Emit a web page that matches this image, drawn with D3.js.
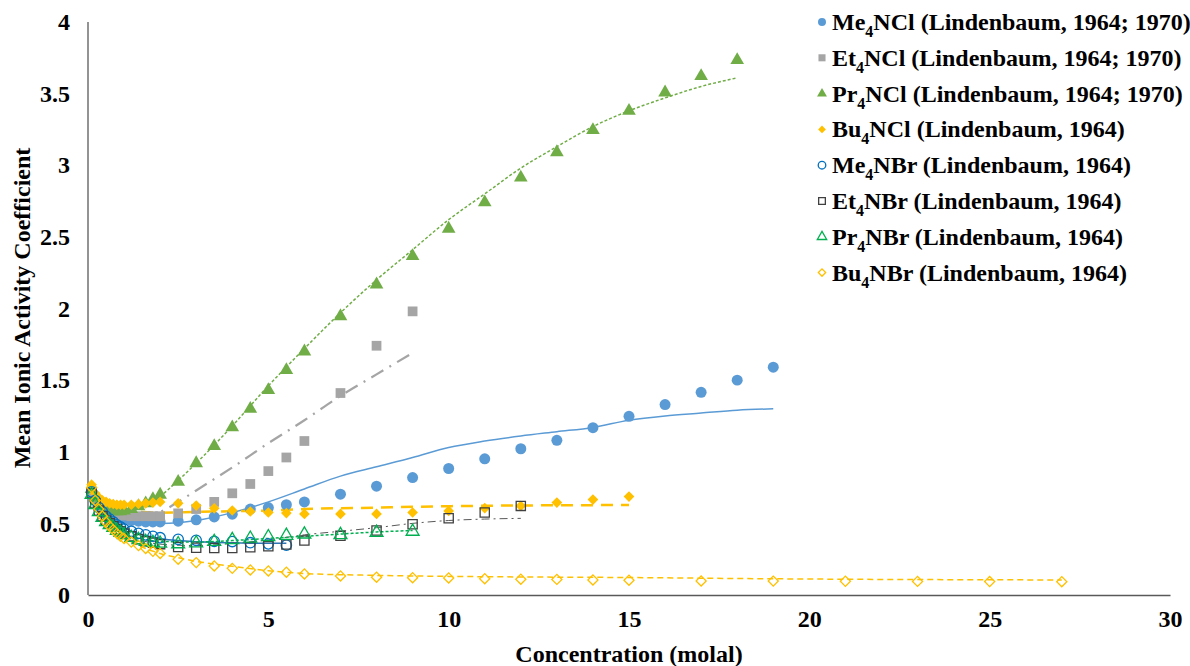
<!DOCTYPE html>
<html><head><meta charset="utf-8">
<script src="https://cdn.jsdelivr.net/npm/d3@7"></script>
<style>
html,body{margin:0;padding:0;background:#fff;}
svg{display:block;font-family:"Liberation Serif","Times New Roman",serif;font-weight:bold;}
</style></head>
<body><svg id="chart" width="1190" height="666"></svg>
<script>
// ---------- data ----------
const xTicks = [0, 5, 10, 15, 20, 25, 30];
const yTicks = [0, 0.5, 1, 1.5, 2, 2.5, 3, 3.5, 4];
const yTickLabels = ["0", "0.5", "1", "1.5", "2", "2.5", "3", "3.5", "4"];

const mLow = [0.1,0.2,0.3,0.4,0.5,0.6,0.7,0.8,0.9,1.0,1.2,1.4,1.6,1.8,2.0];
const mMid = [2.5,3,3.5,4,4.5,5,5.5,6];

// measured points
const me4nclM = mLow.concat(mMid, [7,8,9,10,11,12,13,14,15,16,17,18,19]);
const me4nclG = [0.72,0.66,0.62,0.60,0.58,0.565,0.55,0.54,0.535,0.53,0.52,0.515,0.51,0.51,0.51,
                 0.515,0.525,0.545,0.564,0.60,0.61,0.63,0.65,
                 0.704,0.76,0.82,0.883,0.951,1.021,1.08,1.168,1.247,1.329,1.415,1.50,1.59];

const et4nclM = mLow.concat(mMid, [7,8,9]);
const et4nclG = [0.72,0.67,0.63,0.61,0.595,0.58,0.57,0.565,0.56,0.555,0.55,0.55,0.55,0.55,0.55,
                 0.57,0.60,0.65,0.71,0.775,0.865,0.96,1.075,
                 1.41,1.74,1.98];

const pr4nclM = mLow.concat(mMid, [7,8,9,10,11,12,13,14,15,16,17,18]);
const pr4nclG = [0.74,0.68,0.64,0.62,0.60,0.59,0.585,0.585,0.585,0.59,0.60,0.62,0.64,0.67,0.70,
                 0.79,0.92,1.04,1.17,1.30,1.43,1.57,1.70,
                 1.946,2.168,2.366,2.557,2.741,2.914,3.091,3.245,3.38,3.508,3.622,3.734];

const bu4nclM = mLow.concat(mMid, [7,8,9,10,11,12,13,14,15]);
const bu4nclG = [0.77,0.71,0.68,0.66,0.65,0.64,0.635,0.63,0.63,0.63,0.63,0.635,0.64,0.645,0.65,
                 0.64,0.624,0.605,0.59,0.583,0.576,0.572,0.566,
                 0.566,0.566,0.576,0.587,0.606,0.622,0.645,0.666,0.687];

const me4nbrM = mLow.concat([2.5,3,3.5,4,4.5,5,5.5]);
const me4nbrG = [0.72,0.66,0.61,0.58,0.55,0.53,0.51,0.49,0.475,0.46,0.445,0.43,0.42,0.41,0.40,
                 0.389,0.382,0.375,0.373,0.365,0.357,0.348];

const et4nbrM = mLow.concat(mMid, [7,8,9,10,11,12]);
const et4nbrG = [0.71,0.64,0.59,0.55,0.52,0.50,0.48,0.46,0.445,0.43,0.41,0.39,0.375,0.365,0.355,
                 0.335,0.33,0.328,0.328,0.333,0.34,0.352,0.38,
                 0.413,0.45,0.494,0.536,0.576,0.622];

const pr4nbrM = mLow.concat(mMid, [7,8,9]);
const pr4nbrG = [0.70,0.63,0.58,0.54,0.51,0.49,0.47,0.45,0.435,0.42,0.40,0.385,0.372,0.365,0.36,
                 0.356,0.362,0.372,0.385,0.395,0.405,0.415,0.424,
                 0.42,0.436,0.443];

const bu4nbrM = mLow.concat(mMid, [7,8,9,10,11,12,13,14,15,17,19,21,23,25,27]);
const bu4nbrG = [0.75,0.66,0.60,0.55,0.51,0.48,0.455,0.43,0.41,0.395,0.37,0.345,0.325,0.305,0.29,
                 0.25,0.226,0.203,0.186,0.175,0.168,0.159,0.147,
                 0.133,0.124,0.121,0.119,0.114,0.11,0.109,0.105,0.103,
                 0.098,0.097,0.096,0.095,0.094,0.093];

// fitted curves
const me4nclFitM = [0.1,0.3,0.6,1,1.5,2,2.5,3,4,5,6,7,8,9,10,11,12,13,14,15,16,17,18,19];
const me4nclFitG = [0.72,0.62,0.56,0.525,0.505,0.50,0.505,0.52,0.575,0.65,0.74,0.83,0.895,0.96,1.03,1.075,1.11,1.14,1.17,1.22,1.25,1.27,1.29,1.30];

const et4nclFitM = [0.1,0.3,0.6,1,1.5,2,2.5,3,4,5,6,7,8,9];
const et4nclFitG = [0.72,0.63,0.58,0.555,0.55,0.58,0.65,0.73,0.89,1.06,1.22,1.39,1.54,1.69];

const pr4nclFitM = [0.1,0.3,0.5,1,1.5,2,2.5,3,4,5,6,7,8,9,10,11,12,13,14,15,16,17,18];
const pr4nclFitG = [0.74,0.66,0.62,0.60,0.62,0.69,0.80,0.92,1.18,1.46,1.72,1.97,2.20,2.41,2.62,2.80,2.98,3.13,3.27,3.38,3.47,3.55,3.61];

const bu4nclFitM = [0.1,0.3,0.5,1,1.5,2,3,4,5,6,8,10,12,15];
const bu4nclFitG = [0.76,0.67,0.63,0.595,0.58,0.575,0.58,0.585,0.59,0.60,0.61,0.62,0.625,0.628];

const me4nbrFitM = [0.1,0.3,0.5,1,1.5,2,2.5,3,3.5,4,4.5,5,5.5];
const me4nbrFitG = [0.72,0.62,0.56,0.47,0.42,0.395,0.38,0.372,0.367,0.364,0.362,0.361,0.361];

const et4nbrFitM = [0.1,0.3,0.5,1,1.5,2,3,4,5,6,7,8,9,10,11,12];
const et4nbrFitG = [0.71,0.59,0.52,0.43,0.38,0.355,0.345,0.36,0.385,0.42,0.445,0.47,0.50,0.52,0.53,0.535];

const pr4nbrFitM = [0.1,0.3,0.5,1,1.5,2,3,4,5,6,7,8,9];
const pr4nbrFitG = [0.70,0.58,0.52,0.43,0.39,0.375,0.37,0.38,0.395,0.41,0.425,0.44,0.45];

const bu4nbrFitM = [0.1,0.3,0.5,1,1.5,2,2.5,3,4,5,6,8,10,12,15,18,21,24,27];
const bu4nbrFitG = [0.75,0.60,0.51,0.395,0.335,0.29,0.26,0.235,0.20,0.17,0.15,0.137,0.13,0.126,0.122,0.115,0.11,0.107,0.105];

const seriesNames = ["Me", "Et", "Pr", "Bu", "Me", "Et", "Pr", "Bu"];
const seriesTails = ["NCl (Lindenbaum, 1964; 1970)", "NCl (Lindenbaum, 1964; 1970)", "NCl (Lindenbaum, 1964; 1970)",
  "NCl (Lindenbaum, 1964)", "NBr (Lindenbaum, 1964)", "NBr (Lindenbaum, 1964)", "NBr (Lindenbaum, 1964)", "NBr (Lindenbaum, 1964)"];

// ---------- styles ----------
const series = [
  {m: me4nclM, g: me4nclG, fm: me4nclFitM, fg: me4nclFitG, shape: "circle",  fill: "#5b9bd5", stroke: "none", lc: "#5b9bd5", lw: 1.5, dash: null},
  {m: et4nclM, g: et4nclG, fm: et4nclFitM, fg: et4nclFitG, shape: "square",  fill: "#a5a5a5", stroke: "none", lc: "#a5a5a5", lw: 2.25, dash: "14,7,2,7"},
  {m: pr4nclM, g: pr4nclG, fm: pr4nclFitM, fg: pr4nclFitG, shape: "triangle",fill: "#70ad47", stroke: "none", lc: "#70ad47", lw: 1.5, dash: "3,2"},
  {m: bu4nclM, g: bu4nclG, fm: bu4nclFitM, fg: bu4nclFitG, shape: "diamond", fill: "#ffc000", stroke: "none", lc: "#ffc000", lw: 2.5, dash: "12,8"},
  {m: me4nbrM, g: me4nbrG, fm: me4nbrFitM, fg: me4nbrFitG, shape: "circle",  fill: "none", stroke: "#0070c0", lc: "#2e75b6", lw: 1.5, dash: null},
  {m: et4nbrM, g: et4nbrG, fm: et4nbrFitM, fg: et4nbrFitG, shape: "square",  fill: "none", stroke: "#404040", lc: "#595959", lw: 1.0, dash: "8,4,2,4"},
  {m: pr4nbrM, g: pr4nbrG, fm: pr4nbrFitM, fg: pr4nbrFitG, shape: "triangle",fill: "none", stroke: "#00b050", lc: "#00b050", lw: 1.5, dash: "3,2"},
  {m: bu4nbrM, g: bu4nbrG, fm: bu4nbrFitM, fg: bu4nbrFitG, shape: "diamond", fill: "none", stroke: "#ffc000", lc: "#ffc000", lw: 1.5, dash: "6,4"}
];

// ---------- chart ----------
const FS = 24;
const svg = d3.select("#chart");
const x = d3.scaleLinear().domain([0, 30]).range([88, 1170]);
const y = d3.scaleLinear().domain([0, 4]).range([595, 22]);

function symPath(shape, size) {
  if (shape === "circle") return d3.symbol().type(d3.symbolCircle).size(size)();
  if (shape === "square") return d3.symbol().type(d3.symbolSquare).size(size)();
  if (shape === "triangle") return d3.symbol().type(d3.symbolTriangle).size(size * 0.85)();
  return d3.symbol().type(d3.symbolSquare).size(size * 0.6)();
}

// axes
const xAxis = d3.axisBottom(x).tickValues(xTicks).tickSize(0).tickPadding(15).tickFormat(d3.format("d"));
const yAxis = d3.axisLeft(y).tickValues(yTicks).tickSize(0).tickPadding(18).tickFormat((d, i) => yTickLabels[i]);

const gx = svg.append("g").attr("transform", "translate(0,595)").call(xAxis);
const gy = svg.append("g").attr("transform", "translate(88,0)").call(yAxis);
[gx, gy].forEach(g => {
  g.select(".domain").attr("stroke", "#595959").attr("stroke-width", 1.3);
  g.selectAll("text").attr("font-family", "Liberation Serif, Times New Roman, serif")
    .attr("font-weight", "bold").attr("font-size", FS).attr("fill", "#000");
});
gy.select(".domain").attr("d", "M0," + y(4) + "V" + y(0));

// fits
const line = d3.line().x(d => x(d[0])).y(d => y(d[1])).curve(d3.curveMonotoneX);
series.forEach(s => {
  svg.append("path")
    .datum(s.fm.map((mv, i) => [mv, s.fg[i]]))
    .attr("d", line).attr("fill", "none")
    .attr("stroke", s.lc).attr("stroke-width", s.lw)
    .attr("stroke-dasharray", s.dash);
});

// markers
series.forEach(s => {
  const filled = s.fill !== "none";
  const size = filled ? 95 : 85;
  svg.append("g").selectAll("path")
    .data(s.m.map((mv, i) => [mv, s.g[i]]))
    .join("path")
    .attr("d", symPath(s.shape, size))
    .attr("transform", d => "translate(" + x(d[0]) + "," + y(d[1]) + ")" + (s.shape === "diamond" ? " rotate(45)" : ""))
    .attr("fill", filled ? s.fill : "none")
    .attr("stroke", filled ? "none" : s.stroke)
    .attr("stroke-width", 1.3);
});

// axis titles
svg.append("text").attr("x", 629).attr("y", 662).attr("text-anchor", "middle")
  .attr("font-size", FS).text("Concentration (molal)");
svg.append("text").attr("transform", "translate(30,308) rotate(-90)").attr("text-anchor", "middle")
  .attr("font-size", FS).text("Mean Ionic Activity Coefficient");

// legend
const lg = svg.append("g");
series.forEach((s, i) => {
  const yy = 22 + i * 35.8;
  const filled = s.fill !== "none";
  lg.append("path").attr("d", symPath(s.shape, filled ? 50 : 45))
    .attr("transform", "translate(822," + yy + ")" + (s.shape === "diamond" ? " rotate(45)" : ""))
    .attr("fill", filled ? s.fill : "none")
    .attr("stroke", filled ? "none" : s.stroke).attr("stroke-width", 1.3);
  const t = lg.append("text").attr("x", 832).attr("y", yy + 8).attr("font-size", FS);
  t.append("tspan").text(seriesNames[i]);
  t.append("tspan").attr("dy", 7).attr("font-size", 16).text("4");
  t.append("tspan").attr("dy", -7).text(seriesTails[i]);
});
</script></body></html>
